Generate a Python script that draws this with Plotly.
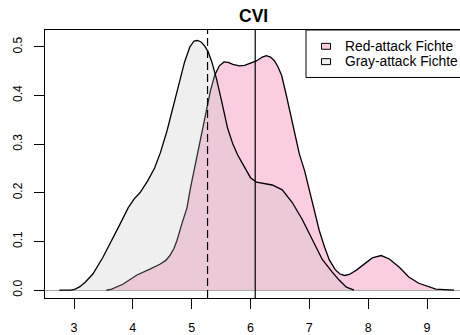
import plotly.graph_objects as go

# Kernel density of CVI, gray-attack spruce
gray_x = [2.75, 2.95, 3.02, 3.10, 3.19, 3.32, 3.49, 3.61, 3.78, 3.92, 4.02, 4.12,
          4.25, 4.37, 4.47, 4.58, 4.71, 4.80, 4.88, 4.97, 5.04, 5.10, 5.16, 5.22,
          5.28, 5.34, 5.42, 5.51, 5.61, 5.70, 5.78, 5.86, 5.93, 6.00, 6.10, 6.22,
          6.37, 6.54, 6.71, 6.88, 7.05, 7.22, 7.39, 7.51, 7.63, 7.76]
gray_y = [0.000, 0.000, 0.002, 0.007, 0.016, 0.033, 0.067, 0.094, 0.135, 0.169, 0.187, 0.200,
          0.224, 0.251, 0.283, 0.327, 0.388, 0.435, 0.469, 0.500, 0.512, 0.513, 0.510, 0.502,
          0.490, 0.470, 0.435, 0.388, 0.333, 0.300, 0.278, 0.261, 0.245, 0.231, 0.222, 0.219,
          0.216, 0.206, 0.180, 0.145, 0.104, 0.063, 0.037, 0.020, 0.006, 0.000]

# Kernel density of CVI, red-attack spruce
red_x = [3.55, 3.64, 3.83, 4.07, 4.29, 4.46, 4.56, 4.63, 4.70, 4.75, 4.83, 4.92,
         4.98, 5.05, 5.12, 5.19, 5.25, 5.32, 5.39, 5.47, 5.55, 5.62, 5.70, 5.81,
         5.90, 5.98, 6.10, 6.20, 6.27, 6.34, 6.41, 6.47, 6.53, 6.61, 6.71, 6.83,
         6.92, 7.00, 7.08, 7.17, 7.26, 7.34, 7.44, 7.52, 7.60, 7.68, 7.80, 7.97,
         8.07, 8.22, 8.36, 8.53, 8.69, 8.86, 9.03, 9.15, 9.46]
red_y = [0.000, 0.002, 0.012, 0.031, 0.043, 0.053, 0.061, 0.071, 0.086, 0.102, 0.135, 0.169,
         0.210, 0.251, 0.292, 0.333, 0.373, 0.410, 0.441, 0.461, 0.469, 0.468, 0.464, 0.461,
         0.462, 0.465, 0.471, 0.479, 0.482, 0.479, 0.471, 0.458, 0.441, 0.400, 0.347, 0.280,
         0.245, 0.205, 0.165, 0.122, 0.088, 0.062, 0.042, 0.033, 0.030, 0.032, 0.041, 0.057,
         0.066, 0.071, 0.064, 0.047, 0.027, 0.014, 0.006, 0.002, 0.000]

# Group means marked with vertical lines
gray_mean = 5.27
red_mean = 6.08

series_names = ["Red-attack Fichte", "Gray-attack Fichte"]
y_ticks = [0.0, 0.1, 0.2, 0.3, 0.4, 0.5]
x_ticks = [3, 4, 5, 6, 7, 8, 9]

PINK = "rgb(251,205,225)"
GRAY_FILL = "rgba(190,190,190,0.25)"
GRAY_KEY = "rgb(239,239,239)"
FONT = "Liberation Sans, Arial, sans-serif"

W, H = 460, 335
ML, MR, MT, MB = 45, 0, 30, 34

fig = go.Figure()
fig.add_trace(go.Scatter(x=red_x, y=red_y, mode="lines", fill="toself",
                         fillcolor=PINK, line=dict(color="black", width=1.3),
                         name=series_names[0], showlegend=False, hoverinfo="skip"))
fig.add_trace(go.Scatter(x=gray_x, y=gray_y, mode="lines", fill="toself",
                         fillcolor=GRAY_FILL, line=dict(color="black", width=1.3),
                         name=series_names[1], showlegend=False, hoverinfo="skip"))

# mean lines
fig.add_shape(type="line", xref="x", yref="paper", x0=gray_mean, x1=gray_mean, y0=0, y1=1,
              line=dict(color="black", width=1.2, dash="8px,4px"))
fig.add_shape(type="line", xref="x", yref="paper", x0=red_mean, x1=red_mean, y0=0, y1=1,
              line=dict(color="black", width=1.2))

# helpers: pixel position -> paper coordinates
pw, ph = W - ML - MR, H - MT - MB
def px(x):
    return (x - ML) / pw
def py(y):
    return (H - MB - y) / ph

# legend box with keys
fig.add_shape(type="rect", xref="paper", yref="paper",
              x0=px(306), x1=px(480), y0=py(78), y1=py(30),
              line=dict(color="black", width=1), fillcolor="white")
key_colors = [PINK, GRAY_KEY]
row_y = [46.5, 62]
for name, col, ry in zip(series_names, key_colors, row_y):
    fig.add_shape(type="rect", xref="paper", yref="paper",
                  x0=px(321.5), x1=px(330.5), y0=py(ry + 3), y1=py(ry - 3),
                  line=dict(color="black", width=1), fillcolor=col)
    fig.add_annotation(xref="paper", yref="paper", x=px(343), y=py(ry),
                       text=name, showarrow=False, xanchor="left", yanchor="middle",
                       font=dict(family=FONT, size=13.8, color="black"))

# title
fig.add_annotation(xref="paper", yref="paper", x=px(253), y=py(16), text="<b>CVI</b>",
                   showarrow=False, xanchor="center", yanchor="middle",
                   font=dict(family=FONT, size=17.5, color="black"))

fig.update_layout(
    width=W, height=H,
    margin=dict(l=ML, r=MR, t=MT, b=MB),
    paper_bgcolor="white", plot_bgcolor="white",
    font=dict(family=FONT, color="black"),
    showlegend=False,
)
fig.update_xaxes(range=[2.507, 9.561], tickvals=x_ticks, ticks="outside", ticklen=10,
                 tickwidth=1, tickcolor="black", showline=True, linecolor="black",
                 linewidth=1, mirror=True, showgrid=False, zeroline=False,
                 tickfont=dict(size=12.5), ticklabelstandoff=8)
fig.update_yaxes(range=[-0.0163, 0.5346], tickvals=y_ticks, tickformat=".1f",
                 ticks="outside", ticklen=10, tickwidth=1, tickcolor="black",
                 showline=True, linecolor="black", linewidth=1, mirror=False,
                 showgrid=False, zeroline=True, zerolinecolor="rgb(170,170,170)",
                 zerolinewidth=1, tickangle=-90, tickfont=dict(size=12),
                 ticklabelstandoff=7)

fig.write_html("out.html")
